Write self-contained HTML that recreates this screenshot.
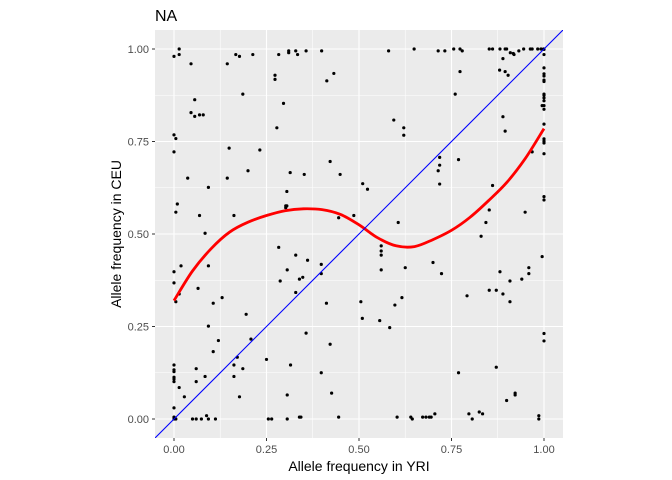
<!DOCTYPE html>
<html><head><meta charset="utf-8"><style>
body{margin:0;background:#fff;}
svg{display:block;font-family:"Liberation Sans",Arial,sans-serif;}
</style></head><body>
<svg id="chart" width="672" height="480">
<text x="155" y="21" font-size="16" fill="#000">NA</text>
<rect x="155" y="30" width="408" height="408" fill="#ebebeb"/>
<g id="grid"></g>
<g id="marks" clip-path="url(#clip)"></g>
<g id="axes"></g>
<clipPath id="clip"><rect x="155" y="30" width="408" height="408"/></clipPath>
<text x="359" y="471" font-size="14" text-anchor="middle" fill="#000">Allele frequency in YRI</text>
<text transform="translate(121,234) rotate(-90)" font-size="14" text-anchor="middle" fill="#000">Allele frequency in CEU</text>
</svg>
<script>
const xTicks=[0,0.25,0.5,0.75,1];
const tickLabels=["0.00","0.25","0.50","0.75","1.00"];
const ptX=[0,0.014,0.014,0.046,0.144,0.167,0.177,0.213,0.283,0.31,0.31,0.329,0.334,0.357,0.399,0.273,0.273,0.432,0.413,0.186,0.056,0.046,0.056,0.069,0.079,0.296,0.278,0,0.005,0,0.149,0.232,0.037,0.144,0.2,0.314,0.352,0.422,0.449,0.093,0.305,0.302,0.305,0.302,0.009,0.005,0.069,0.162,0.445,0.486,0.084,
0.58,0.649,0.714,0.732,0.756,0.773,0.779,0.852,0.861,0.881,0.895,0.899,0.909,0.917,0.919,0.932,0.945,0.963,0.968,0.983,0.992,0.999,
1,1,1,1,1,1,1,1,1,1,1,1,1,1,1,1,1,1,1,1,0.995,0.889,0.88,0.895,0.903,0.773,0.76,0.889,0.895,0.594,0.621,0.621,0.718,0.718,0.714,0.718,0.769,0.968,0.51,0.523,0.861,0.852,0.949,0.606,0.843,
0.283,0.329,0.361,0.398,0.306,0.287,0.339,0.348,0.329,0.398,0.412,0.019,0,0,0.014,0.005,0.093,0.065,0.106,0.13,0.195,0.093,0.12,0.106,0.208,0.171,0.162,0.186,0.162,0.25,0.315,0.357,0.422,0.398,0.426,0.306,0.177,
0,0,0,0,0,0,0,0,0.014,0.028,0.06,0.06,0.084,0,0.005,0.05,0.06,0.074,0.093,0.112,0.088,0.255,0.264,0.306,0.339,0.343,0.445,
0.83,0.56,0.56,0.56,0.56,0.625,0.7,0.723,0.505,0.509,0.597,0.616,0.556,0.583,0.792,0.852,0.871,0.881,0.908,0.889,0.908,0.94,0.959,0.959,0.995,1,1,0.769,0.871,0.899,0.922,0.922,0.986,0.986,0.603,0.64,0.644,0.672,0.681,0.69,0.695,0.705,0.797,0.806,0.825,0.834];
const ptY=[0.98,1,0.985,0.96,0.96,0.985,0.98,0.985,0.985,0.995,0.99,0.995,0.985,0.995,0.995,0.929,0.918,0.934,0.914,0.878,0.863,0.828,0.818,0.822,0.822,0.853,0.787,0.768,0.758,0.722,0.732,0.727,0.651,0.651,0.671,0.666,0.661,0.696,0.661,0.626,0.615,0.576,0.576,0.571,0.581,0.559,0.55,0.55,0.544,0.55,0.502,
0.995,1,0.995,0.995,1,1,0.995,1,1,1,1,1,0.99,0.988,0.985,0.995,1,1,1,1,1,1,
0.999,0.985,0.949,0.933,0.927,0.916,0.912,0.878,0.875,0.868,0.86,0.847,0.837,0.797,0.757,0.751,0.746,0.717,0.601,0.592,0.847,0.974,0.943,0.939,0.929,0.939,0.878,0.817,0.778,0.808,0.787,0.767,0.707,0.686,0.671,0.635,0.701,0.722,0.636,0.621,0.631,0.565,0.559,0.531,0.531,
0.464,0.443,0.429,0.418,0.403,0.373,0.378,0.383,0.342,0.393,0.313,0.414,0.398,0.368,0.338,0.317,0.414,0.353,0.313,0.328,0.283,0.251,0.212,0.182,0.216,0.167,0.146,0.136,0.115,0.161,0.146,0.232,0.202,0.125,0.07,0.065,0.06,
0.146,0.133,0.128,0.113,0.108,0.101,0.03,0.005,0.085,0.06,0.136,0.101,0.115,0,0,0,0,0,0,0,0.009,0,0,0,0.005,0.005,0.005,
0.494,0.468,0.454,0.443,0.403,0.409,0.423,0.393,0.317,0.272,0.308,0.328,0.266,0.247,0.333,0.348,0.348,0.398,0.373,0.338,0.317,0.378,0.409,0.393,0.439,0.231,0.211,0.125,0.14,0.05,0.07,0.065,0.009,0,0.005,0.005,0,0.005,0.005,0.005,0.005,0.014,0.014,0,0.019,0.014];
const fitX=[0,0.05,0.1,0.15,0.2,0.25,0.3,0.35,0.4,0.45,0.5,0.55,0.6,0.65,0.7,0.75,0.8,0.85,0.9,0.95,1];
const fitY=[0.32,0.4,0.46,0.505,0.532,0.55,0.563,0.568,0.566,0.553,0.525,0.49,0.468,0.466,0.485,0.51,0.545,0.59,0.64,0.705,0.785];

const NS="http://www.w3.org/2000/svg";
const X=v=>174+v*370, Y=v=>419-v*370;
function mk(t,a,p){const e=document.createElementNS(NS,t);for(const k in a)e.setAttribute(k,a[k]);p.appendChild(e);return e;}
const grid=document.getElementById('grid'),marks=document.getElementById('marks'),axes=document.getElementById('axes');
const minor=[0.125,0.375,0.625,0.875];
minor.forEach(v=>{
 const a=mk('line',{x1:X(v),x2:X(v),y1:30,y2:438,stroke:'#fff','stroke-width':0.55},grid);
 
 
 const b=mk('line',{x1:155,x2:563,y1:Y(v),y2:Y(v),stroke:'#fff','stroke-width':0.55},grid);
 
 
});
xTicks.forEach((v,i)=>{
 const a=mk('line',{x1:X(v),x2:X(v),y1:30,y2:438,stroke:'#fff','stroke-width':1.1},grid);
 
 
 const b=mk('line',{x1:155,x2:563,y1:Y(v),y2:Y(v),stroke:'#fff','stroke-width':1.1},grid);
 
 
 const t1=mk('line',{x1:X(v),x2:X(v),y1:438,y2:441,stroke:'#333','stroke-width':1},axes);
 
 
 const l1=mk('text',{x:X(v),y:453,'font-size':11,'text-anchor':'middle',fill:'#4d4d4d'},axes);
 l1.textContent=tickLabels[i];
 
 
 const t2=mk('line',{x1:152,x2:155,y1:Y(v),y2:Y(v),stroke:'#333','stroke-width':1},axes);
 
 
 const l2=mk('text',{x:149,y:Y(v)+4,'font-size':11,'text-anchor':'end',fill:'#4d4d4d'},axes);
 l2.textContent=tickLabels[i];
 
 
});
for(let i=0;i<ptX.length;i++){
 const c=mk('circle',{cx:X(ptX[i]),cy:Y(ptY[i]),r:1.6,fill:'#000'},marks);
 
 
}
// Catmull-Rom smoothing through fit points
const P=fitX.map((v,i)=>[X(v),Y(fitY[i])]);
let d='M'+P[0][0].toFixed(1)+','+P[0][1].toFixed(1);
for(let i=0;i<P.length-1;i++){
 const p0=P[Math.max(0,i-1)],p1=P[i],p2=P[i+1],p3=P[Math.min(P.length-1,i+2)];
 const c1=[p1[0]+(p2[0]-p0[0])/6,p1[1]+(p2[1]-p0[1])/6];
 const c2=[p2[0]-(p3[0]-p1[0])/6,p2[1]-(p3[1]-p1[1])/6];
 d+='C'+c1[0].toFixed(1)+','+c1[1].toFixed(1)+' '+c2[0].toFixed(1)+','+c2[1].toFixed(1)+' '+p2[0].toFixed(1)+','+p2[1].toFixed(1);
}
const f=mk('path',{d:d,fill:'none',stroke:'#ff0000','stroke-width':2.8,'stroke-linejoin':'round'},marks);


const dg=mk('line',{x1:X(-0.1),y1:Y(-0.1),x2:X(1.1),y2:Y(1.1),stroke:'#0000ff','stroke-width':1.1},marks);


</script>
</body></html>
